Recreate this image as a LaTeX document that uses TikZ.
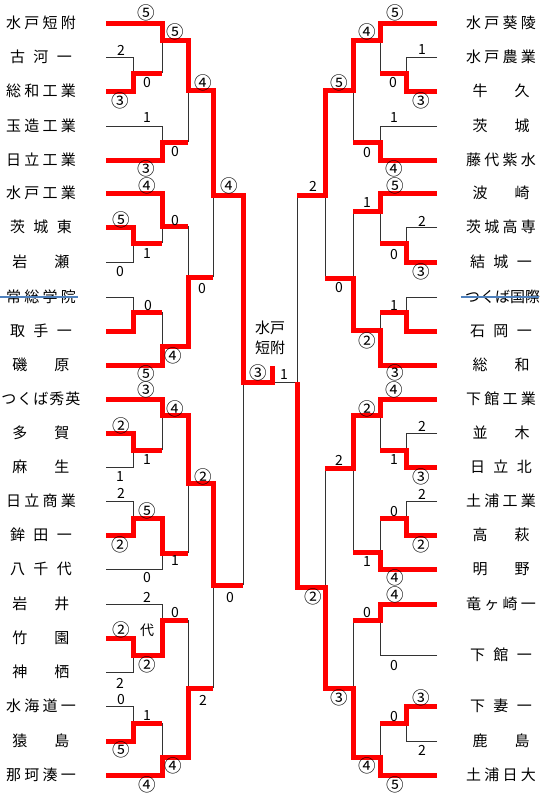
\documentclass[tikz,border=0pt]{standalone}
\usepackage{fontspec}
\setmainfont{Noto Sans CJK JP}
\definecolor{winRed}{HTML}{FF0000}
\definecolor{lineGray}{HTML}{333333}
\definecolor{strikeBlue}{HTML}{4F81BD}
\tikzset{
  winLine/.style={draw=winRed, line width=5pt, line join=miter},
  loseLine/.style={draw=lineGray, line width=1pt},
  teamName/.style={inner sep=0pt, font=\fontsize{15}{15}\selectfont},
  scoreLbl/.style={inner sep=0pt, font=\fontsize{14}{14}\selectfont},
  winScore/.style={inner sep=0pt, font=\fontsize{17.5}{17.5}\selectfont},
  strikeLine/.style={draw=strikeBlue, line width=1.2pt},
}
\def\sploopgobble#1{}
\def\sploop#1#2{#1\ifx\relax#2\expandafter\sploopgobble\else\hfill\expandafter\sploop\fi#2}
\newcommand\spreadname[2]{\makebox[#1][s]{\expandafter\sploop#2\relax}}

\begin{document}
\begin{tikzpicture}[x=1pt, y=-1pt]
    \useasboundingbox (0,0) rectangle (550,796);
    \foreach \y/\w/\t [count=\i] in {23/70/水戸短附, 57/62/古河一, 91/70/総和工業,
      126/70/玉造工業, 160/70/日立工業, 193/70/水戸工業, 227/62/茨城東, 262/57/岩瀬,
      297/70/常総学院, 331/62/取手一, 365/57/磯原, 399/79/つくば秀英, 433/57/多賀,
      467/57/麻生, 501/70/日立商業, 535/62/鉾田一, 569/62/八千代, 604/57/岩井,
      638/57/竹園, 672/57/神栖, 706/70/水海道一, 741/57/猿島, 775/70/那珂湊一}
      \node[teamName] (lt\i) at (41,\y) {\spreadname{\w pt}{\t}};
    \foreach \y/\w/\t [count=\i] in {23/70/水戸葵陵, 57/70/水戸農業, 91/57/牛久,
      126/57/茨城, 160/70/藤代紫水, 193/57/波崎, 227/70/茨城高専, 262/62/結城一,
      297/72/つくば国際, 331/62/石岡一, 365/57/総和, 399/70/下館工業, 433/57/並木,
      467/62/日立北, 501/70/土浦工業, 535/57/高萩, 569/57/明野, 604/70/竜ヶ崎一,
      655/62/下館一, 706/62/下妻一, 741/57/鹿島, 775/70/土浦日大}
      \node[teamName] (rt\i) at (501,\y) {\spreadname{\w pt}{\t}};
    \draw[strikeLine] ([xshift=-6pt]lt9.west) -- ([xshift=2pt]lt9.east);
    \draw[strikeLine] ([xshift=-4pt]rt9.west) -- ([xshift=2pt]rt9.east);
    \node[teamName, align=center, font=\fontsize{15}{20}\selectfont] (champ) at (270,338) {水戸\\短附};

    % left half
    \draw[loseLine] (106,57) -- (133,57) -- (133,73);
    \draw[loseLine] (162,73) -- (162,40);
    \draw[loseLine] (106,126) -- (162,126) -- (162,142);
    \draw[loseLine] (188,142) -- (188,90);
    \draw[loseLine] (162,243) -- (162,226);
    \draw[loseLine] (106,262) -- (133,262) -- (133,243);
    \draw[loseLine] (106,297) -- (133,297) -- (133,312);
    \draw[loseLine] (162,312) -- (162,346);
    \draw[loseLine] (188,226) -- (188,277);
    \draw[loseLine] (213,277) -- (213,195);
    \draw[loseLine] (162,450) -- (162,415);
    \draw[loseLine] (106,467) -- (133,467) -- (133,450);
    \draw[loseLine] (106,501) -- (133,501) -- (133,518);
    \draw[loseLine] (188,553) -- (188,483);
    \draw[loseLine] (106,569) -- (162,569) -- (162,553);
    \draw[loseLine] (106,604) -- (162,604) -- (162,620);
    \draw[loseLine] (188,620) -- (188,688);
    \draw[loseLine] (106,672) -- (133,672) -- (133,655);
    \draw[loseLine] (106,706) -- (133,706) -- (133,723);
    \draw[loseLine] (162,723) -- (162,757);
    \draw[loseLine] (213,688) -- (213,585);
    \draw[loseLine] (243,585) -- (243,382);
    \draw[loseLine] (272,382) -- (297,382);

    \draw[winLine] (106,23) -- (162,23) -- (162,40) -- (188,40) -- (188,90) -- (213,90)
      -- (213,195) -- (243,195) -- (243,382) -- (272,382) -- (272,366);
    \draw[winLine] (106,91) -- (133,91) -- (133,73) -- (162,73);
    \draw[winLine] (106,160) -- (162,160) -- (162,142) -- (188,142);
    \draw[winLine] (106,193) -- (162,193) -- (162,226) -- (188,226);
    \draw[winLine] (106,227) -- (133,227) -- (133,243) -- (162,243);
    \draw[winLine] (106,331) -- (133,331) -- (133,312) -- (162,312);
    \draw[winLine] (106,365) -- (162,365) -- (162,346) -- (188,346) -- (188,277) -- (213,277);
    \draw[winLine] (106,399) -- (162,399) -- (162,415) -- (188,415) -- (188,483) -- (213,483)
      -- (213,585) -- (243,585);
    \draw[winLine] (106,433) -- (133,433) -- (133,450) -- (162,450);
    \draw[winLine] (106,535) -- (133,535) -- (133,518) -- (162,518) -- (162,553) -- (188,553);
    \draw[winLine] (106,638) -- (133,638) -- (133,655) -- (162,655) -- (162,620) -- (188,620);
    \draw[winLine] (106,741) -- (133,741) -- (133,723) -- (162,723);
    \draw[winLine] (106,775) -- (162,775) -- (162,757) -- (188,757) -- (188,688) -- (213,688);

    % right half
    \draw[loseLine] (437,57) -- (406,57) -- (406,73);
    \draw[loseLine] (380,73) -- (380,40);
    \draw[loseLine] (437,126) -- (380,126) -- (380,142);
    \draw[loseLine] (353,142) -- (353,90);
    \draw[loseLine] (380,211) -- (380,243);
    \draw[loseLine] (437,227) -- (406,227) -- (406,243);
    \draw[loseLine] (437,297) -- (406,297) -- (406,312);
    \draw[loseLine] (380,312) -- (380,330);
    \draw[loseLine] (353,211) -- (353,278);
    \draw[loseLine] (325,278) -- (325,195);
    \draw[loseLine] (297,195) -- (297,382);
    \draw[loseLine] (380,415) -- (380,450);
    \draw[loseLine] (437,433) -- (406,433) -- (406,450);
    \draw[loseLine] (437,501) -- (406,501) -- (406,518);
    \draw[loseLine] (380,518) -- (380,552);
    \draw[loseLine] (353,552) -- (353,468);
    \draw[loseLine] (325,468) -- (325,587);
    \draw[loseLine] (437,655) -- (380,655) -- (380,620);
    \draw[loseLine] (353,620) -- (353,688);
    \draw[loseLine] (437,741) -- (406,741) -- (406,723);
    \draw[loseLine] (380,723) -- (380,757);

    \draw[winLine] (437,23) -- (380,23) -- (380,40) -- (353,40) -- (353,90) -- (325,90)
      -- (325,195) -- (297,195);
    \draw[winLine] (437,91) -- (406,91) -- (406,73) -- (380,73);
    \draw[winLine] (437,160) -- (380,160) -- (380,142) -- (353,142);
    \draw[winLine] (437,193) -- (380,193) -- (380,211) -- (353,211);
    \draw[winLine] (437,262) -- (406,262) -- (406,243) -- (380,243);
    \draw[winLine] (437,331) -- (406,331) -- (406,312) -- (380,312);
    \draw[winLine] (437,365) -- (380,365) -- (380,330) -- (353,330) -- (353,278) -- (325,278);
    \draw[winLine] (437,399) -- (380,399) -- (380,415) -- (353,415) -- (353,468) -- (325,468);
    \draw[winLine] (437,467) -- (406,467) -- (406,450) -- (380,450);
    \draw[winLine] (437,535) -- (406,535) -- (406,518) -- (380,518);
    \draw[winLine] (437,569) -- (380,569) -- (380,552) -- (353,552);
    \draw[winLine] (437,604) -- (380,604) -- (380,620) -- (353,620);
    \draw[winLine] (437,706) -- (406,706) -- (406,723) -- (380,723);
    \draw[winLine] (437,775) -- (380,775) -- (380,757) -- (353,757) -- (353,688) -- (325,688)
      -- (325,587) -- (297,587) -- (297,382);

    \foreach \x/\y/\s [count=\i] in {121/50/2, 147/83/0, 147/118/1, 175/152/0, 175/221/0,
      147/254/1, 120/272/0, 202/289/0, 148/306/0, 147/460/1, 120/477/1, 121/493/2,
      175/561/1, 147/578/0, 230/597/0, 147/597/2, 175/612/0, 147/630/代, 120/683/2,
      121/699/0, 203/700/2, 147/715/1, 284/375/1,
      422/50/1, 393/83/0, 394/118/1, 367/153/0, 313/186/2, 367/203/1, 422/221/2,
      394/255/0, 339/288/0, 394/306/1, 422/426/2, 339/460/2, 394/460/1, 422/494/2,
      394/512/0, 367/562/1, 367/612/0, 394/665/0, 394/716/0, 422/750/2}
      \node[scoreLbl] (sc\i) at (\x,\y) {\s};
    \foreach \x/\y/\s [count=\i] in {146/13/⑤, 175/32/⑤, 120/101/③, 203/83/④, 146/169/③,
      229/186/④, 147/186/④, 121/220/⑤, 173/356/④, 146/374/⑤, 146/390/③, 175/409/④,
      121/426/②, 203/477/②, 147/511/⑤, 120/545/②, 121/630/②, 147/665/②, 121/750/⑤,
      173/766/④, 147/785/④, 258/373/③,
      395/13/⑤, 367/32/④, 339/83/⑤, 421/101/③, 394/169/④, 395/186/⑤, 421/272/③,
      367/341/②, 395/373/③, 394/390/④, 367/409/②, 421/477/③, 421/545/②, 395/578/④,
      395/595/④, 313/597/②, 421/698/③, 339/698/③, 367/766/④, 395/785/⑤}
      \node[winScore] (ws\i) at (\x,\y) {\s};
\end{tikzpicture}
\end{document}
